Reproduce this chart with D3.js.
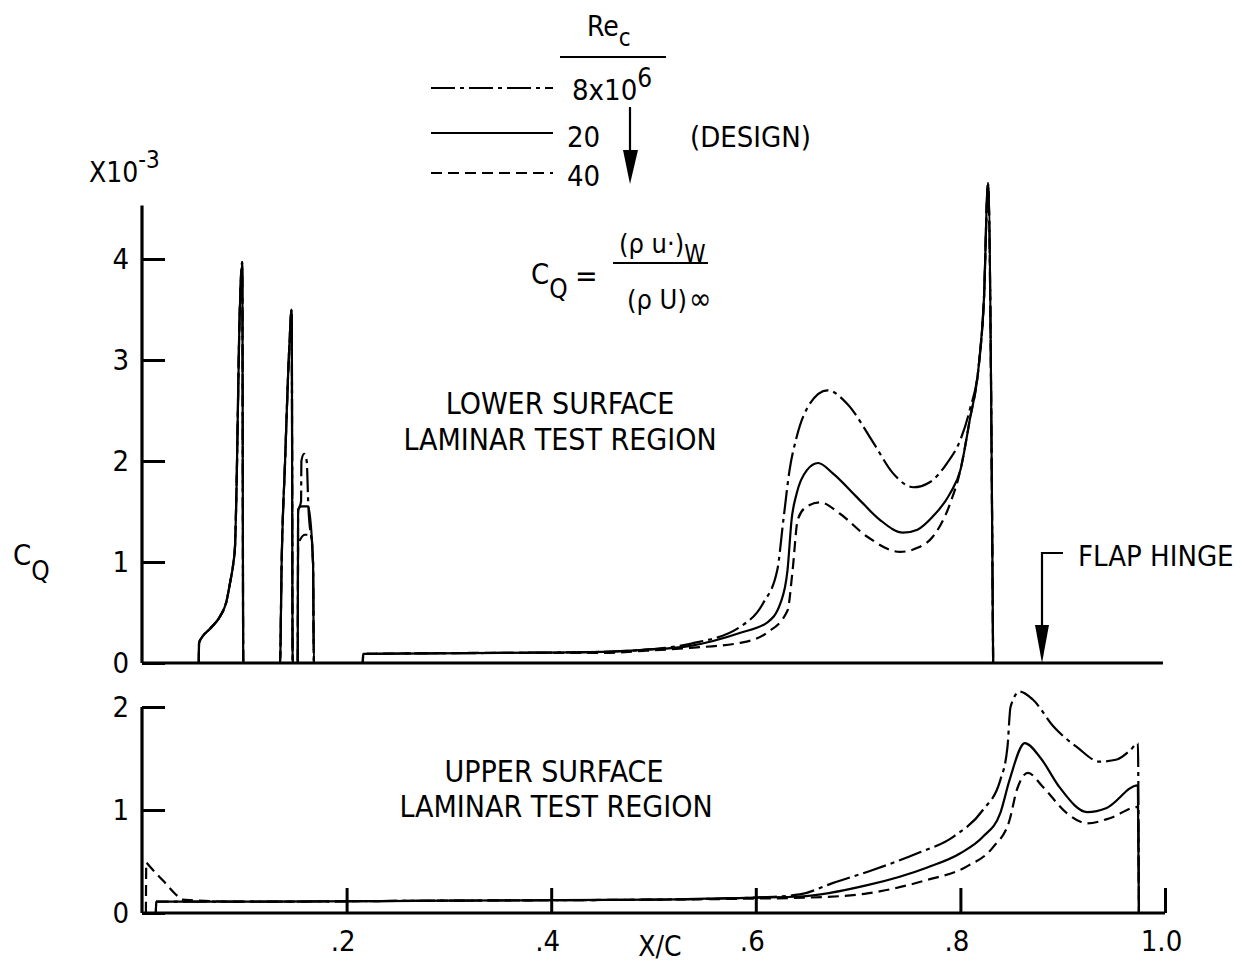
<!DOCTYPE html>
<html>
<head>
<meta charset="utf-8">
<script src="https://cdn.jsdelivr.net/npm/d3@7"></script>
<style>
  html, body { margin: 0; padding: 0; background: #fff; }
  svg text { font-family: 'Liberation Sans Narrow', 'DejaVu Sans Condensed', sans-serif; fill: #000; }
</style>
</head>
<body>
<svg id="chart" width="1243" height="964"></svg>
<script>
// ---------------- DATA ----------------
const seriesNames = ["8x10^6", "20", "40"];
const lowerYTicks = [0, 1, 2, 3, 4];
const upperYTicks = [0, 1, 2];
const xTicks = [0.2, 0.4, 0.6, 0.8, 1.0];
const xTickLabels = [".2", ".4", ".6", ".8", "1.0"];

// Lower surface: leading spikes shared by all Reynolds numbers [X/C, CQ x 10^3]
const lowerSpikes = [[0.0555,0],[0.0558,0.2],[0.0583,0.25],[0.0665,0.34],[0.0762,0.46],[0.0828,0.62],[0.086,0.79],[0.0893,0.99],[0.0909,1.15],[0.0925,1.78],[0.0951,3.3],[0.098,3.97],[0.099,0],[0.1349,0],[0.1365,0.99],[0.1398,1.98],[0.144,3.13],[0.1463,3.5],[0.1473,0],[0.1522,0]];

const lower8 = [[0.1526,1.5],[0.1555,1.6],[0.1558,2.0],[0.1584,2.07],[0.161,2.0],[0.1625,1.58],[0.1672,0.99],[0.168,0],[0.2158,0],[0.2162,0.09],[0.35,0.1],[0.45,0.11],[0.49,0.13],[0.536,0.19],[0.585,0.36],[0.607,0.59],[0.621,0.92],[0.627,1.42],[0.633,1.91],[0.640,2.24],[0.653,2.57],[0.670,2.70],[0.689,2.57],[0.715,2.18],[0.734,1.88],[0.754,1.74],[0.770,1.79],[0.787,1.98],[0.800,2.21],[0.809,2.5],[0.818,2.95],[0.823,3.6],[0.827,4.75],[0.832,0]];
const lower20 = [[0.1526,1.52],[0.156,1.55],[0.1625,1.55],[0.1672,0.99],[0.168,0],[0.2158,0],[0.2162,0.09],[0.35,0.1],[0.45,0.11],[0.49,0.13],[0.536,0.17],[0.585,0.30],[0.611,0.40],[0.624,0.59],[0.631,0.92],[0.635,1.42],[0.640,1.68],[0.650,1.91],[0.661,1.98],[0.675,1.88],[0.699,1.64],[0.721,1.42],[0.744,1.29],[0.758,1.32],[0.773,1.45],[0.790,1.68],[0.800,1.91],[0.809,2.4],[0.818,2.95],[0.823,3.6],[0.827,4.75],[0.832,0]];
const lower40 = [[0.1526,1.15],[0.1545,1.22],[0.1595,1.27],[0.1652,1.27],[0.1672,0.99],[0.168,0],[0.2158,0],[0.2162,0.09],[0.35,0.1],[0.45,0.1],[0.49,0.12],[0.536,0.15],[0.585,0.2],[0.611,0.30],[0.631,0.52],[0.636,0.92],[0.641,1.42],[0.650,1.55],[0.663,1.59],[0.682,1.48],[0.709,1.25],[0.741,1.10],[0.758,1.14],[0.773,1.25],[0.790,1.58],[0.800,1.91],[0.809,2.4],[0.818,2.95],[0.823,3.6],[0.827,4.75],[0.832,0]];

// Upper surface
const upper8 = [[0.0135,0],[0.0139,0.11],[0.1,0.11],[0.3,0.12],[0.5,0.13],[0.6,0.15],[0.643,0.18],[0.675,0.29],[0.715,0.42],[0.758,0.58],[0.793,0.74],[0.822,1.0],[0.839,1.29],[0.846,1.61],[0.849,2.0],[0.858,2.15],[0.871,2.07],[0.891,1.81],[0.914,1.61],[0.936,1.47],[0.953,1.49],[0.966,1.58],[0.9735,1.65],[0.9745,0]];
const upper20 = [[0.0135,0],[0.0139,0.11],[0.1,0.11],[0.3,0.12],[0.5,0.13],[0.6,0.15],[0.643,0.16],[0.709,0.27],[0.767,0.44],[0.800,0.58],[0.822,0.74],[0.839,0.97],[0.848,1.29],[0.863,1.65],[0.878,1.51],[0.897,1.22],[0.924,0.98],[0.943,1.02],[0.9735,1.24],[0.9745,0]];
const upper40 = [[0.0038,0],[0.0042,0.49],[0.0055,0.475],[0.021,0.31],[0.037,0.145],[0.039,0.13],[0.1,0.11],[0.3,0.12],[0.5,0.13],[0.6,0.14],[0.653,0.15],[0.709,0.19],[0.767,0.32],[0.806,0.45],[0.832,0.64],[0.848,0.9],[0.855,1.19],[0.866,1.36],[0.881,1.22],[0.904,0.97],[0.924,0.87],[0.946,0.92],[0.9735,1.03],[0.9745,0]];

// ---------------- LAYOUT ----------------
const svg = d3.select("#chart");
const X0 = 142, X1 = 1165;
const x = d3.scaleLinear().domain([0, 1]).range([X0, X1]);
const yTop = d3.scaleLinear().domain([0, 4]).range([663, 259]);
const yBot = d3.scaleLinear().domain([0, 2]).range([913, 707]);

const dashStyles = ["24,5,4,5", null, "11,6"];
const LW = 2.2;

// ---------------- AXES ----------------
const gTopAxis = svg.append("g").attr("transform", `translate(${X0},0)`)
  .call(d3.axisLeft(yTop).tickValues(lowerYTicks).tickSizeInner(-23).tickSizeOuter(0).tickPadding(13).tickFormat(d3.format("d")));
gTopAxis.select(".domain").remove();
svg.append("line").attr("x1", X0).attr("x2", X0).attr("y1", yTop(0)).attr("y2", yTop(4.53))
  .attr("stroke", "#000").attr("stroke-width", 3.2);
svg.append("line").attr("x1", X0).attr("x2", x(0.998)).attr("y1", yTop(0)).attr("y2", yTop(0))
  .attr("stroke", "#000").attr("stroke-width", 3);

const gBotAxis = svg.append("g").attr("transform", `translate(${X0},0)`)
  .call(d3.axisLeft(yBot).tickValues(upperYTicks).tickSizeInner(-23).tickSizeOuter(0).tickPadding(13).tickFormat(d3.format("d")));
gBotAxis.select(".domain").remove();
svg.append("line").attr("x1", X0).attr("x2", X0).attr("y1", yBot(0)).attr("y2", yBot(2))
  .attr("stroke", "#000").attr("stroke-width", 3.2);

const gX = svg.append("g").attr("transform", `translate(0,${yBot(0)})`)
  .call(d3.axisBottom(x).tickValues(xTicks).tickSizeInner(-25).tickSizeOuter(0).tickPadding(13)
    .tickFormat((d, i) => xTickLabels[i]));
gX.select(".domain").attr("stroke-width", 3).attr("d", `M${X0},0H${X1}`);

[gTopAxis, gBotAxis, gX].forEach(g => {
  g.selectAll(".tick line").attr("stroke", "#000").attr("stroke-width", 3);
  g.selectAll(".tick text").attr("font-size", 29).attr("font-family", null);
});
gX.selectAll(".tick text").attr("dy", "0.85em").attr("dx", -4);

// ---------------- CURVES ----------------
const lineTop = d3.line().x(d => x(d[0])).y(d => yTop(d[1])).curve(d3.curveMonotoneX);
const lineBot = d3.line().x(d => x(d[0])).y(d => yBot(d[1])).curve(d3.curveMonotoneX);

const lowerSeries = [lowerSpikes.concat(lower8), lowerSpikes.concat(lower20), lowerSpikes.concat(lower40)];
const upperSeries = [upper8, upper20, upper40];

svg.append("g").selectAll("path").data(lowerSeries).join("path")
  .attr("d", lineTop).attr("fill", "none").attr("stroke", "#000").attr("stroke-width", LW)
  .attr("stroke-dasharray", (d, i) => dashStyles[i]).attr("stroke-linejoin", "round");
svg.append("g").selectAll("path").data(upperSeries).join("path")
  .attr("d", lineBot).attr("fill", "none").attr("stroke", "#000").attr("stroke-width", LW)
  .attr("stroke-dasharray", (d, i) => dashStyles[i]).attr("stroke-linejoin", "round");

// ---------------- TEXT ----------------
function txt(t, xx, yy, size, anchor) {
  return svg.append("text").attr("x", xx).attr("y", yy).attr("font-size", size)
    .attr("text-anchor", anchor || "start").text(t);
}
const sc = txt("X10", 89, 182, 28);
sc.append("tspan").attr("dy", -14).attr("font-size", 24).text("-3");
const cq = txt("C", 13, 565, 29);
cq.append("tspan").attr("dy", 15).attr("font-size", 26).text("Q");

txt("X/C", 660, 956, 28, "middle");

txt("LOWER SURFACE", 560, 414, 30, "middle");
txt("LAMINAR TEST REGION", 560, 450, 30, "middle");
txt("UPPER SURFACE", 554, 782, 30, "middle");
txt("LAMINAR TEST REGION", 556, 817, 30, "middle");

// Legend
const re = txt("Re", 587, 36, 28);
re.append("tspan").attr("dy", 10).attr("font-size", 24).text("c");
svg.append("line").attr("x1", 560).attr("x2", 666).attr("y1", 57).attr("y2", 57).attr("stroke", "#000").attr("stroke-width", 2);
const legendY = [88, 133, 173];
legendY.forEach((ly, i) => {
  svg.append("line").attr("x1", 431).attr("x2", 553).attr("y1", ly).attr("y2", ly)
    .attr("stroke", "#000").attr("stroke-width", LW).attr("stroke-dasharray", dashStyles[i]);
});
const l8 = txt("8x10", 572, 100, 29);
l8.append("tspan").attr("dy", -13).attr("font-size", 26).text("6");
txt("20", 567, 147, 29);
txt("40", 567, 186, 29);
txt("(DESIGN)", 690, 147, 29);
svg.append("line").attr("x1", 630).attr("x2", 630).attr("y1", 107).attr("y2", 160).attr("stroke", "#000").attr("stroke-width", 2.2);
svg.append("path").attr("d", "M623,150L638,150L630,184Z").attr("fill", "#000");

// Formula
const fc = txt("C", 531, 284, 29);
fc.append("tspan").attr("dy", 14).attr("font-size", 26).text("Q");
txt("=", 575, 286, 30);
const num = txt("(\u03C1 u\u00B7)", 619, 253, 27);
num.append("tspan").attr("dy", 9).attr("font-size", 24).text("W");
svg.append("line").attr("x1", 613).attr("x2", 708).attr("y1", 263).attr("y2", 263).attr("stroke", "#000").attr("stroke-width", 2);
const den = txt("(\u03C1 U)", 627, 309, 27);
den.append("tspan").attr("dx", 2).attr("font-size", 30).text("\u221E");

// Flap hinge
svg.append("path").attr("d", `M1063,553H1042V632`).attr("fill", "none").attr("stroke", "#000").attr("stroke-width", 2.2);
svg.append("path").attr("d", `M1035,625L1049,625L1042,${yTop(0)}Z`).attr("fill", "#000");
txt("FLAP HINGE", 1078, 566, 29);
</script>
</body>
</html>
